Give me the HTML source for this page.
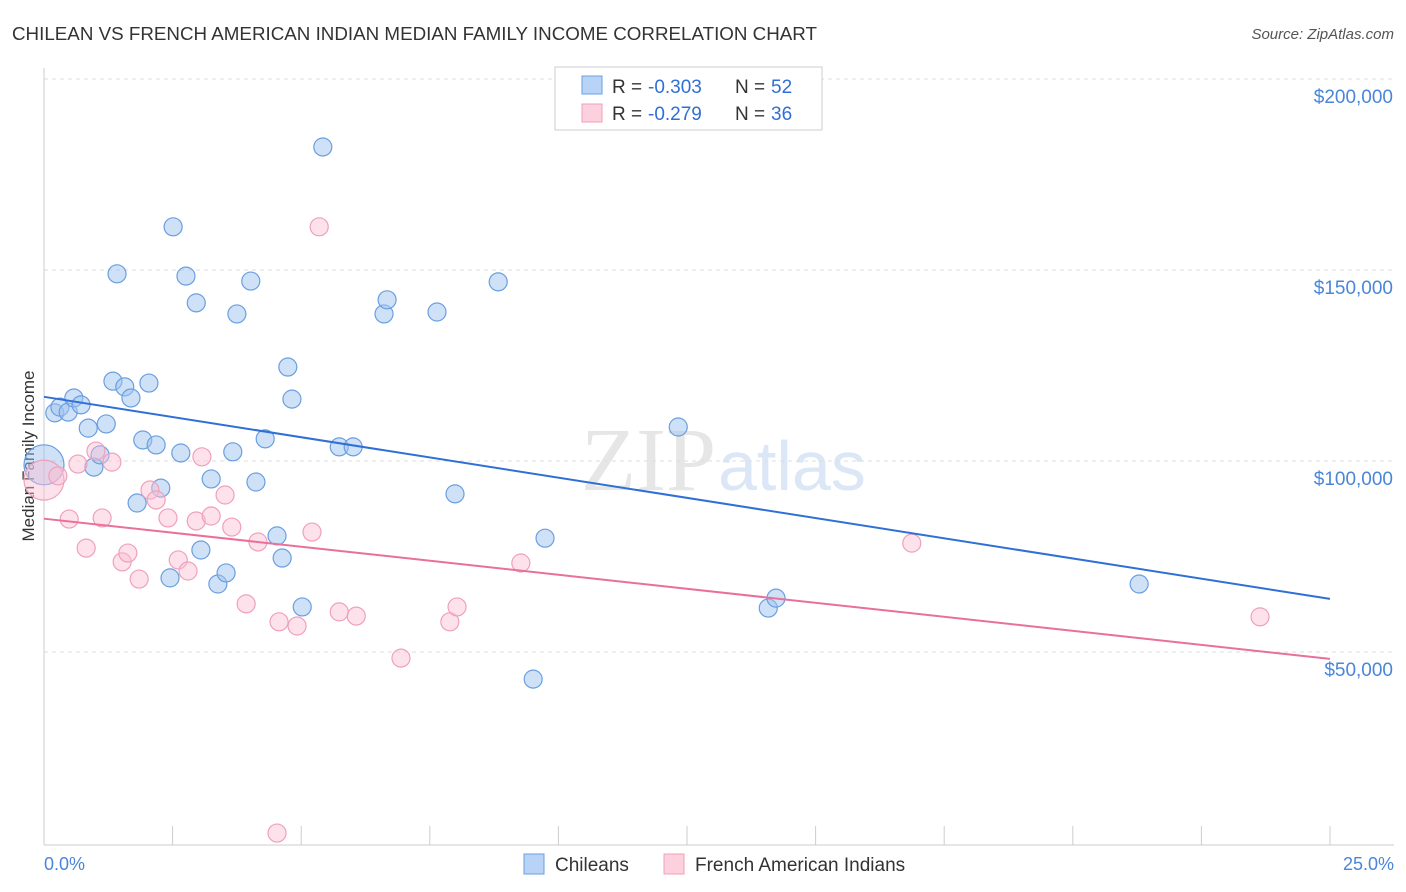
<!DOCTYPE html>
<html><head><meta charset="utf-8"><style>
body{margin:0;background:#fff;font-family:"Liberation Sans",sans-serif;}
svg{display:block}
</style></head><body>
<svg id="c" width="1406" height="892" xmlns="http://www.w3.org/2000/svg">
<text x="12" y="40" font-size="18" fill="#333" textLength="805" lengthAdjust="spacingAndGlyphs">CHILEAN VS FRENCH AMERICAN INDIAN MEDIAN FAMILY INCOME CORRELATION CHART</text>
<text x="1394" y="39" font-size="15" fill="#555" font-style="italic" text-anchor="end">Source: ZipAtlas.com</text>
<text x="34" y="456" font-size="17" fill="#333" text-anchor="middle" transform="rotate(-90 34 456)">Median Family Income</text>
<text x="716" y="490" font-size="90" fill="#e6e6e6" text-anchor="end" font-family="Liberation Serif">ZIP</text>
<text x="718" y="490" font-size="70" fill="#dbe7f6">atlas</text>
<g id="grid"></g><g id="pts"></g><g id="lines"></g>
<g>
<rect x="555" y="67" width="267" height="63" fill="#fff" stroke="#ccc"/>
<rect x="582" y="76" width="20" height="18" fill="#b8d3f5" stroke="#6a9fe0"/>
<rect x="582" y="104" width="20" height="18" fill="#fcd0dd" stroke="#f0a0bb"/>
<text y="93" font-size="19" fill="#333"><tspan x="612">R =</tspan><tspan x="648" fill="#2f6fd6">-0.303</tspan><tspan x="735">N =</tspan><tspan x="771" fill="#2f6fd6">52</tspan></text>
<text y="120" font-size="19" fill="#333"><tspan x="612">R =</tspan><tspan x="648" fill="#2f6fd6">-0.279</tspan><tspan x="735">N =</tspan><tspan x="771" fill="#2f6fd6">36</tspan></text>
</g>
<g>
<rect x="524" y="854" width="20" height="20" fill="#b8d3f5" stroke="#6a9fe0"/>
<text x="555" y="871" font-size="19" fill="#333">Chileans</text>
<rect x="664" y="854" width="20" height="20" fill="#fcd0dd" stroke="#f0a0bb"/>
<text x="695" y="871" font-size="19" fill="#333">French American Indians</text>
</g>
<text x="44" y="870" font-size="18" fill="#4a86d8">0.0%</text>
<text x="1394" y="870" font-size="18" fill="#4a86d8" text-anchor="end">25.0%</text>
</svg>
<script>
const yTicks=[50000,100000,150000,200000];
const yTickLabels=["$50,000","$100,000","$150,000","$200,000"];
const blueX=[0.21,0.31,0.47,0.58,0.72,0.86,0.97,1.09,1.21,1.34,1.42,1.57,1.69,1.81,1.92,2.04,2.18,2.27,2.45,2.51,2.66,2.76,2.96,3.05,3.25,3.38,3.54,3.67,3.75,4.02,4.12,4.30,4.53,4.63,4.74,4.82,5.02,5.42,5.74,6.01,6.61,6.67,7.64,7.99,8.83,9.51,9.74,12.33,14.08,14.23,21.29,0];
const blueY=[112.6,114.1,112.8,116.5,114.7,108.6,98.4,101.6,109.7,120.9,149.0,119.4,116.5,89.0,105.5,120.4,104.2,92.9,69.4,161.3,102.1,148.4,141.4,76.7,95.3,67.8,70.7,102.4,138.5,147.1,94.5,105.8,80.4,74.6,124.6,116.2,61.8,182.2,103.7,103.7,138.5,142.2,139.0,91.4,146.9,42.9,79.8,108.9,61.5,64.1,67.8,99.0];
const pinkX=[0,0.27,0.49,0.66,0.82,1.01,1.13,1.32,1.52,1.63,1.85,2.06,2.18,2.41,2.61,2.80,2.96,3.07,3.25,3.52,3.65,3.93,4.16,4.57,4.92,4.53,5.21,5.35,5.74,6.07,6.94,7.89,8.03,9.27,16.87,23.64];
const pinkY=[95.0,96.1,84.8,99.2,77.2,102.6,85.1,99.7,73.6,75.9,69.1,92.4,89.8,85.1,74.1,71.2,84.3,101.1,85.6,91.1,82.7,62.6,78.8,57.9,56.8,2.6,81.4,161.3,60.5,59.4,48.4,57.9,61.8,73.3,78.5,59.2];
const blueTrend=[116.8,63.9];
const pinkTrend=[84.9,48.2];
const NS="http://www.w3.org/2000/svg";
const X=p=>44+p/25*1286;
const Y=v=>843-v/150000*573;
function mk(t,a,par){const e=document.createElementNS(NS,t);for(const k in a)e.setAttribute(k,a[k]);document.getElementById(par).appendChild(e);return e;}
yTicks.forEach((v,i)=>{
 const l=mk('line',{x1:44,x2:1394,y1:Y(v),y2:Y(v),stroke:'#ddd','stroke-dasharray':'4,4'},'grid');
 
 
 const t=mk('text',{x:1393,y:Y(v)+24,'font-size':19,fill:'#4a86d8','text-anchor':'end'},'grid');
 t.textContent=yTickLabels[i];
 
 
});
mk('line',{x1:44,x2:44,y1:68,y2:845,stroke:'#ccc'},'grid');
mk('line',{x1:44,x2:1394,y1:845,y2:845,stroke:'#ccc'},'grid');
for(let i=1;i<=10;i++){const tk=mk('line',{x1:X(i*2.5),x2:X(i*2.5),y1:826,y2:845,stroke:'#ccc'},'grid');
 
 }
function pts(xs,ys,fill,stroke,name,bigIdx){
 xs.forEach((x,i)=>{const c=mk('circle',{cx:X(x),cy:Y(ys[i]*1000),r:i===bigIdx?20:9,fill:fill,stroke:stroke,'stroke-width':1.2},'pts');
 
 });
}
pts(blueX,blueY,'rgba(160,195,240,0.5)','#6a9fe0','chileans-point',51);
pts(pinkX,pinkY,'rgba(250,190,210,0.45)','#f0a0bb','french-american-indians-point',0);
const bl=mk('line',{x1:X(0),x2:X(25),y1:Y(blueTrend[0]*1000),y2:Y(blueTrend[1]*1000),stroke:'#2f6fd6','stroke-width':2},'lines');


const pl=mk('line',{x1:X(0),x2:X(25),y1:Y(pinkTrend[0]*1000),y2:Y(pinkTrend[1]*1000),stroke:'#e8709a','stroke-width':2},'lines');


</script>
</body></html>
